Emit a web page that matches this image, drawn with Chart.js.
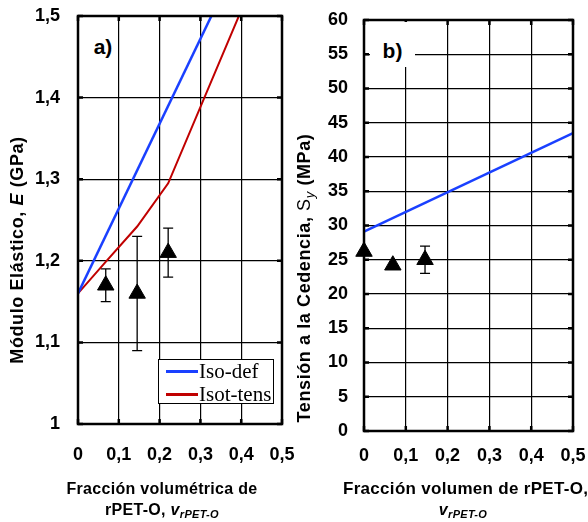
<!DOCTYPE html>
<html>
<head>
<meta charset="utf-8">
<script src="https://cdn.jsdelivr.net/npm/chart.js@4/dist/chart.umd.min.js"></script>
<style>
body { margin: 0; background: #fff; width: 588px; height: 522px; position: relative; overflow: hidden; font-family: "Liberation Sans", Arial, sans-serif; }
.wrap { position: absolute; top: 0; height: 522px; }
.ytitle { position: absolute; width: 340px; height: 22px; line-height: 22px; text-align: center; transform: rotate(-90deg); font-weight: bold; font-size: 18px; letter-spacing: 0.6px; white-space: nowrap; }
.xtitle { position: absolute; text-align: center; font-weight: bold; font-size: 16px; letter-spacing: 0.3px; line-height: 21px; white-space: nowrap; }
.xtitle .v { font-style: italic; font-size: 16px; }
.xtitle sub { font-style: italic; font-size: 11px; vertical-align: -3px; line-height: 0; }
.ytitle sub { font-style: italic; font-weight: normal; font-size: 13px; vertical-align: -4px; line-height: 0; }
.panel { position: absolute; font-weight: bold; font-size: 21px; background: #fff; text-align: center; }
.legend { position: absolute; left: 158px; top: 359px; width: 114px; height: 43px; border: 1.5px solid #000; background: #fff; font-family: "Liberation Serif", "Times New Roman", serif; font-size: 21px; }
.legend .row { position: absolute; left: 0; height: 22px; line-height: 22px; }
.legend .swatch { position: absolute; left: 7px; width: 32px; height: 2.5px; }
.legend .txt { position: absolute; left: 40px; white-space: nowrap; }
</style>
</head>
<body>
<div class="wrap" style="left:0;width:300px"><canvas id="chartA"></canvas></div>
<div class="wrap" style="left:290px;width:298px"><canvas id="chartB"></canvas></div>

<div class="ytitle" style="left:-153px;top:239px">Módulo Elástico, <i>E</i> (GPa)</div>
<div class="ytitle" style="left:134px;top:267px">Tensión a la Cedencia, <span style="font-weight:normal">S</span><sub>y</sub> (MPa)</div>

<div class="xtitle" style="left:42px;width:240px;top:478px">Fracción volumétrica de<br>rPET-O, <span class="v">v</span><sub>rPET-O</sub></div>
<div class="xtitle" style="left:343px;width:240px;top:478px"><span style="font-size:17px">Fracción volumen de rPET-O,</span><br><span class="v">v</span><sub>rPET-O</sub></div>

<div class="panel" style="left:90px;top:34px;width:26px;height:26px;line-height:26px">a)</div>
<div class="panel" style="left:370px;top:22px;width:45px;height:45px;line-height:58px">b)</div>

<div class="legend" id="legendA"></div>

<script>
// common x axis
const xTickLabels = ["0", "0,1", "0,2", "0,3", "0,4", "0,5"];

// panel a) elastic modulus
const yTickLabelsA = ["1", "1,1", "1,2", "1,3", "1,4", "1,5"];
const measFracA = [0.068, 0.145, 0.221];
const measModA = [1.17, 1.16, 1.21];
const measErrA = [0.02, 0.07, 0.03];
const isoDefFrac = [0, 0.5];
const isoDefMod = [1.16, 1.68];
const isoTensFrac = [0, 0.07, 0.145, 0.221, 0.5];
const isoTensMod = [1.16, 1.2, 1.242, 1.295, 1.625];
const seriesNamesA = ["Iso-def", "Isot-tens"];
const seriesColorsA = ["#1a40ff", "#c00000"];

// panel b) yield stress
const yTickLabelsB = ["0", "5", "10", "15", "20", "25", "30", "35", "40", "45", "50", "55", "60"];
const measFracB = [0, 0.069, 0.146];
const measYieldB = [26.2, 24.2, 25];
const measErrB = [0, 0, 2];
const isoDefFracB = [0, 0.5];
const isoDefYield = [29.1, 43.5];

const tickFont = { family: "Liberation Sans", size: 18, weight: "bold" };

function pts(xs, ys) {
  return xs.map((x, i) => ({ x: x, y: ys[i] }));
}

function errorBars(xs, ys, errs) {
  return {
    id: 'errorBars',
    beforeDatasetsDraw(chart) {
      const ctx = chart.ctx;
      const sx = chart.scales.x, sy = chart.scales.y;
      ctx.save();
      ctx.strokeStyle = '#000';
      ctx.lineWidth = 1.3;
      xs.forEach((v, i) => {
        if (!errs[i]) return;
        const px = sx.getPixelForValue(v);
        const top = sy.getPixelForValue(ys[i] + errs[i]);
        const bot = sy.getPixelForValue(ys[i] - errs[i]);
        ctx.beginPath();
        ctx.moveTo(px, top); ctx.lineTo(px, bot);
        ctx.moveTo(px - 5, top); ctx.lineTo(px + 5, top);
        ctx.moveTo(px - 5, bot); ctx.lineTo(px + 5, bot);
        ctx.stroke();
      });
      ctx.restore();
    }
  };
}

const frame = {
  id: 'frame',
  afterDatasetsDraw(chart) {
    const { ctx, chartArea: a } = chart;
    const sx = chart.scales.x, sy = chart.scales.y;
    ctx.save();
    ctx.strokeStyle = '#000';
    ctx.lineWidth = 2.5;
    ctx.strokeRect(a.left, a.top, a.right - a.left, a.bottom - a.top);
    ctx.beginPath();
    sx.ticks.forEach(t => {
      const px = sx.getPixelForValue(t.value);
      ctx.moveTo(px, a.bottom); ctx.lineTo(px, a.bottom - 5);
      ctx.moveTo(px, a.top); ctx.lineTo(px, a.top + 5);
    });
    sy.ticks.forEach(t => {
      const py = sy.getPixelForValue(t.value);
      ctx.moveTo(a.left, py); ctx.lineTo(a.left + 5, py);
      ctx.moveTo(a.right, py); ctx.lineTo(a.right - 5, py);
    });
    ctx.stroke();
    ctx.restore();
  }
};

// label offsets are done with invisible tick marks, so the layout padding is not grown
function makeScales(yMin, yMax, yStep, yLabels, yWidth, xHeight, xPad, yPad) {
  return {
    x: {
      type: 'linear', min: 0, max: 0.5,
      afterFit: s => { s.height = xHeight; },
      ticks: { stepSize: 0.1, font: tickFont, color: '#000', padding: 0, maxRotation: 0,
               callback: (v, i) => xTickLabels[i] },
      grid: { color: '#000', lineWidth: 1.2, drawTicks: true, tickLength: xPad, tickColor: 'rgba(0,0,0,0)' },
      border: { display: false }
    },
    y: {
      type: 'linear', min: yMin, max: yMax,
      afterFit: s => { s.width = yWidth; },
      ticks: { stepSize: yStep, font: tickFont, color: '#000', padding: 0,
               callback: (v, i) => yLabels[i] },
      grid: { color: '#000', lineWidth: 1.2, drawTicks: true, tickLength: yPad, tickColor: 'rgba(0,0,0,0)' },
      border: { display: false }
    }
  };
}

new Chart(document.getElementById('chartA'), {
  type: 'scatter',
  data: {
    datasets: [
      { label: seriesNamesA[0], data: pts(isoDefFrac, isoDefMod), showLine: true, borderColor: seriesColorsA[0], borderWidth: 2.5, pointRadius: 0 },
      { label: seriesNamesA[1], data: pts(isoTensFrac, isoTensMod), showLine: true, borderColor: seriesColorsA[1], borderWidth: 2, pointRadius: 0 },
      { label: 'exp', data: pts(measFracA, measModA), pointStyle: 'triangle', pointRadius: 9.5, backgroundColor: '#000', borderColor: '#000', borderWidth: 1, clip: false }
    ]
  },
  options: {
    responsive: true, maintainAspectRatio: false, animation: false,
    layout: { padding: { left: 0, top: 16, right: 18, bottom: 0 } },
    plugins: { legend: { display: false }, tooltip: { enabled: false } },
    scales: makeScales(1, 1.5, 0.1, yTickLabelsA, 78, 98, 20, 18)
  },
  plugins: [errorBars(measFracA, measModA, measErrA), frame]
});

new Chart(document.getElementById('chartB'), {
  type: 'scatter',
  data: {
    datasets: [
      { label: 'Iso-def', data: pts(isoDefFracB, isoDefYield), showLine: true, borderColor: seriesColorsA[0], borderWidth: 2.5, pointRadius: 0 },
      { label: 'exp', data: pts(measFracB, measYieldB), pointStyle: 'triangle', pointRadius: 9.5, backgroundColor: '#000', borderColor: '#000', borderWidth: 1, clip: false }
    ]
  },
  options: {
    responsive: true, maintainAspectRatio: false, animation: false,
    layout: { padding: { left: 0, top: 20, right: 15, bottom: 0 } },
    plugins: { legend: { display: false }, tooltip: { enabled: false } },
    scales: makeScales(0, 60, 5, yTickLabelsB, 74, 91, 14, 16)
  },
  plugins: [errorBars(measFracB, measYieldB, measErrB), frame]
});

// legend for panel a
const legendA = document.getElementById('legendA');
seriesNamesA.forEach((name, i) => {
  const row = document.createElement('div');
  row.className = 'row';
  row.style.top = (i * 23) + 'px';
  row.innerHTML = '<div class="swatch" style="top:10px;background:' + seriesColorsA[i] + '"></div><span class="txt">' + name + '</span>';
  legendA.appendChild(row);
});
</script>
</body>
</html>
